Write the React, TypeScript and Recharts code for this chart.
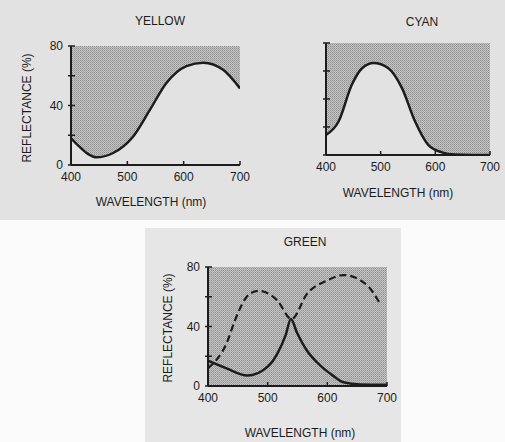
import { Area, ComposedChart, Line, ReferenceArea, XAxis, YAxis } from "recharts";

const xTicks = [400, 500, 600, 700];
const yTicks = [0, 20, 40, 60, 80];
const yLabels = [0, 40, 80];

const yellowWavelength = [400, 415, 430, 445, 474, 510, 540, 569, 605, 635, 670, 700];
const yellowReflectance = [18, 12.3, 7.5, 5.2, 7.9, 19, 37, 55, 66.5, 68.8, 64, 51.5];

const cyanWavelength = [400, 423, 447, 466, 487, 514, 539, 563, 587, 612, 636, 670, 700];
const cyanReflectance = [14.3, 23.9, 50, 62, 65.7, 62, 47.8, 23.9, 7.2, 1.9, 0.3, 0, 0];

const greenWavelength = [400, 430, 466, 500, 516, 530, 539, 549, 566, 583, 610, 627, 655, 700];
const greenReflectance = [17, 12, 7, 13, 21.6, 34, 45, 36, 23.7, 15.8, 6.8, 2.5, 1, 0.8];

const magentaWavelength = [400, 433, 445, 470, 485, 516, 540, 566, 600, 627, 666, 688];
const magentaReflectance = [12, 30.5, 44, 62, 64, 57.6, 45, 62, 71, 74.6, 68, 55.6];

const toRows = (w: number[], r: number[]) => w.map((x, i) => ({ w: x, r: r[i] }));

const INK = "#1c1c1c";
const FONT = "'Liberation Sans', Arial, sans-serif";

function Stipple({ id }: { id: string }) {
  return (
    <defs>
      <pattern id={id} width={2} height={2} patternUnits="userSpaceOnUse">
        <rect width={2} height={2} fill="#c4c4c4" />
        <rect width={1} height={1} fill="#8e8e8e" />
        <rect x={1} y={1} width={1} height={1} fill="#a6a6a6" />
      </pattern>
    </defs>
  );
}

function XTick(props: any) {
  const { x, y, payload } = props;
  return (
    <g>
      {payload.value !== 400 && <line x1={x} x2={x} y1={y} y2={y - 4} stroke={INK} strokeWidth={1.5} />}
      <text x={x} y={y + 16} textAnchor="middle" fontSize={12} fill={INK} fontFamily={FONT}>
        {payload.value}
      </text>
    </g>
  );
}

function makeYTick(showLabels: boolean) {
  return (props: any) => {
    const { x, y, payload } = props;
    return (
      <g>
        <line x1={x - 3} x2={x + 4} y1={y} y2={y} stroke={INK} strokeWidth={1.5} />
        {showLabels && yLabels.includes(payload.value) && (
          <text x={x - 8} y={y + 4} textAnchor="end" fontSize={12} fill={INK} fontFamily={FONT}>
            {payload.value}
          </text>
        )}
      </g>
    );
  };
}

function FilterChart({
  width,
  height,
  margin,
  curve,
  dashed,
  fullShade,
  labels,
  id,
}: {
  width: number;
  height: number;
  margin: { top: number; right: number; bottom: number; left: number };
  curve: { w: number; r: number }[];
  dashed?: { w: number; r: number }[];
  fullShade?: boolean;
  labels: boolean;
  id: string;
}) {
  return (
    <ComposedChart width={width} height={height} margin={margin} data={curve}>
      <Stipple id={id} />
      <XAxis
        type="number"
        dataKey="w"
        domain={[400, 700]}
        ticks={xTicks}
        height={30}
        tickSize={0}
        tickMargin={0}
        tickLine={false}
        axisLine={{ stroke: INK, strokeWidth: 2 }}
        tick={<XTick />}
        allowDataOverflow
      />
      <YAxis
        type="number"
        domain={[0, 80]}
        ticks={yTicks}
        width={40}
        tickSize={0}
        tickMargin={0}
        tickLine={false}
        axisLine={{ stroke: INK, strokeWidth: 2 }}
        tick={makeYTick(labels)}
        allowDataOverflow
      />
      {fullShade ? (
        <ReferenceArea x1={400} x2={700} y1={0} y2={80} fill={`url(#${id})`} fillOpacity={1} stroke="none" />
      ) : (
        <Area
          type="monotone"
          dataKey={(d: { r: number }) => [d.r, 80]}
          stroke="none"
          fill={`url(#${id})`}
          fillOpacity={1}
          isAnimationActive={false}
        />
      )}
      {dashed && (
        <Line
          data={dashed}
          type="monotone"
          dataKey="r"
          stroke={INK}
          strokeWidth={2.2}
          strokeDasharray="7 4"
          dot={false}
          isAnimationActive={false}
        />
      )}
      <Line type="monotone" dataKey="r" stroke={INK} strokeWidth={2.5} dot={false} isAnimationActive={false} />
    </ComposedChart>
  );
}

const textStyle = (x: number, y: number, rotate = false): React.CSSProperties => ({
  position: "absolute",
  left: x,
  top: y,
  transform: `translate(-50%, -50%)${rotate ? " rotate(-90deg)" : ""}`,
  fontFamily: FONT,
  fontSize: 12,
  color: INK,
  whiteSpace: "nowrap",
});

export default function App() {
  return (
    <div style={{ position: "absolute", left: 0, top: 0, width: 505, height: 442, background: "#fbfbfb", overflow: "hidden" }}>
      <div style={{ position: "absolute", left: 0, top: 0, width: 505, height: 220, background: "#e2e2e2" }} />
      <div style={{ position: "absolute", left: 145, top: 228, width: 256, height: 214, background: "#e6e6e6" }} />

      <div style={{ position: "absolute", left: 0, top: 0 }}>
        <FilterChart
          id="yellowDots"
          width={260}
          height={220}
          margin={{ top: 46, right: 20, bottom: 25, left: 31 }}
          curve={toRows(yellowWavelength, yellowReflectance)}
          labels
        />
      </div>
      <div style={{ position: "absolute", left: 260, top: 0 }}>
        <FilterChart
          id="cyanDots"
          width={245}
          height={220}
          margin={{ top: 43, right: 15, bottom: 35, left: 26 }}
          curve={toRows(cyanWavelength, cyanReflectance)}
          labels={false}
        />
      </div>
      <div style={{ position: "absolute", left: 145, top: 228 }}>
        <FilterChart
          id="greenDots"
          width={256}
          height={214}
          margin={{ top: 39, right: 14, bottom: 26, left: 23 }}
          curve={toRows(greenWavelength, greenReflectance)}
          dashed={toRows(magentaWavelength, magentaReflectance)}
          fullShade
          labels
        />
      </div>

      <div style={textStyle(160, 21)}>YELLOW</div>
      <div style={textStyle(422, 22)}>CYAN</div>
      <div style={textStyle(305, 242)}>GREEN</div>

      <div style={textStyle(151, 202)}>WAVELENGTH (nm)</div>
      <div style={textStyle(398, 193)}>WAVELENGTH (nm)</div>
      <div style={textStyle(300, 433)}>WAVELENGTH (nm)</div>

      <div style={textStyle(27, 108, true)}>REFLECTANCE (%)</div>
      <div style={textStyle(168, 328, true)}>REFLECTANCE (%)</div>
    </div>
  );
}
